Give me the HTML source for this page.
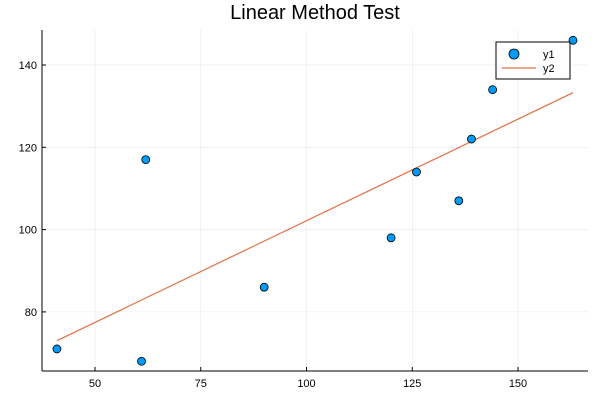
<!DOCTYPE html>
<html><head><meta charset="utf-8"><style>
body{margin:0;background:#fff}
svg{display:block;font-family:"Liberation Sans",sans-serif}
</style></head><body>
<svg id="chart" width="600" height="400">
<text x="315" y="19" text-anchor="middle" font-size="20">Linear Method Test</text>
<g id="grid"></g>
<g id="axes"></g>
<g id="marks"></g>
<g>
<rect x="496" y="42" width="74" height="37" fill="#fff" stroke="#000" stroke-width="1"/>
<circle cx="514" cy="54" r="5" fill="#009af9" stroke="#000" stroke-width="0.8"/>
<text x="543" y="58" font-size="11">y1</text>
<line x1="502" y1="68" x2="536" y2="68" stroke="#e26f46" stroke-width="1.2"/>
<text x="543" y="72" font-size="11">y2</text>
</g>
</svg>
<script>
const xs=[41,61,62,90,120,126,136,139,144,163];
const ys=[71,68,117,86,98,114,107,122,134,146];
const fitSlope=[0.494];
const fitIntercept=[52.75];
const xTicks=[50,75,100,125,150];
const yTicks=[80,100,120,140];
const L=42,R=588,T=30,B=371;
const X=v=>95+(v-50)*4.23;
const Y=v=>65+(140-v)*4.115;
const NS="http://www.w3.org/2000/svg";
function mk(parent,tag,attrs){const e=document.createElementNS(NS,tag);for(const k in attrs)e.setAttribute(k,attrs[k]);document.getElementById(parent).appendChild(e);return e;}
xTicks.forEach(t=>{
 const g=mk('grid','line',{x1:X(t),x2:X(t),y1:T,y2:B,stroke:'#000','stroke-opacity':0.1,'stroke-width':0.5});
 
 
 const tk=mk('axes','line',{x1:X(t),x2:X(t),y1:B,y2:B-4,stroke:'#000'});
 
 
 const tx=mk('axes','text',{x:X(t),y:B+16,'text-anchor':'middle','font-size':11});
 tx.textContent=t;
 
 
});
yTicks.forEach(t=>{
 const g=mk('grid','line',{x1:L,x2:R,y1:Y(t),y2:Y(t),stroke:'#000','stroke-opacity':0.1,'stroke-width':0.5});
 
 
 const tk=mk('axes','line',{x1:L,x2:L+4,y1:Y(t),y2:Y(t),stroke:'#000'});
 
 
 const tx=mk('axes','text',{x:L-5,y:Y(t)+4,'text-anchor':'end','font-size':11});
 tx.textContent=t;
 
 
});
const xa=mk('axes','line',{x1:L,x2:R,y1:B,y2:B,stroke:'#000'});


const ya=mk('axes','line',{x1:L,x2:L,y1:T,y2:B,stroke:'#000'});


const x0=Math.min(...xs),x1=Math.max(...xs);
const fl=mk('marks','line',{x1:X(x0),y1:Y(fitIntercept[0]+fitSlope[0]*x0),x2:X(x1),y2:Y(fitIntercept[0]+fitSlope[0]*x1),stroke:'#e26f46','stroke-width':1.2});


xs.forEach((v,i)=>{
 const c=mk('marks','circle',{cx:X(v),cy:Y(ys[i]),r:4,fill:'#009af9',stroke:'#000','stroke-width':0.8});
 
 
});
</script>
</body></html>
